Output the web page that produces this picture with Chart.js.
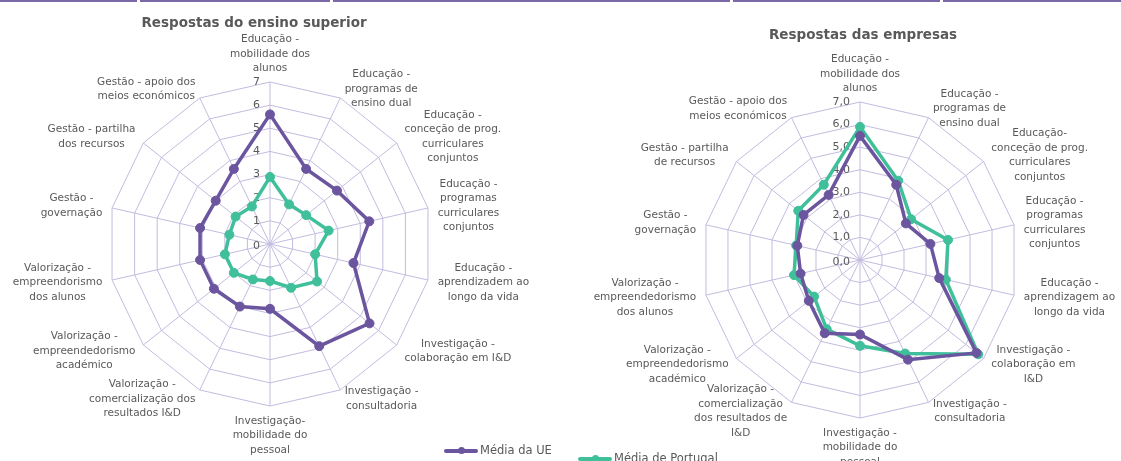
<!DOCTYPE html>
<html>
<head>
<meta charset="utf-8">
<script src="https://cdn.jsdelivr.net/npm/chart.js@4.4.0/dist/chart.umd.min.js"></script>
<style>
  body { margin: 0; width: 1121px; height: 461px; overflow: hidden; background: #fff; position: relative; font-family: "DejaVu Sans", sans-serif; }
  canvas { position: absolute; top: 0; }
  .bar { position: absolute; top: 0; height: 2px; background: #7b68a8; }
  .title { position: absolute; width: 400px; text-align: center; font-size: 13.5px; font-weight: bold; color: #595959; line-height: 16px; }
  .leg { position: absolute; font-size: 11.5px; color: #595959; white-space: nowrap; line-height: 14px; }
  .leg i { display: inline-block; position: relative; width: 34px; height: 4px; border-radius: 2px; vertical-align: middle; margin-right: 2px; }
  .leg i b { position: absolute; left: 14px; top: -2px; width: 7px; height: 7px; border-radius: 50%; background: inherit; }
</style>
</head>
<body>
<div class="bar" style="left:0;width:137px"></div>
<div class="bar" style="left:140px;width:190px"></div>
<div class="bar" style="left:333px;width:397px"></div>
<div class="bar" style="left:733px;width:207px"></div>
<div class="bar" style="left:943px;width:178px"></div>

<canvas id="left" width="560" height="461" style="left:0"></canvas>
<canvas id="right" width="561" height="461" style="left:560px"></canvas>

<div class="title" style="left:54px;top:14px">Respostas do ensino superior</div>
<div class="title" style="left:663px;top:26px">Respostas das empresas</div>

<div class="leg" style="left:444px;top:443px"><i style="background:#6b559f"><b></b></i>Média da UE</div>
<div class="leg" style="left:578px;top:451px"><i style="background:#3fbf9a"><b></b></i>Média de Portugal</div>

<script>
// categories (multi-line labels)
var labelsEnsino = [
  ['Educação -', 'mobilidade dos', 'alunos'],
  ['Educação -', 'programas de', 'ensino dual'],
  ['Educação -', 'conceção de prog.', 'curriculares', 'conjuntos'],
  ['Educação -', 'programas', 'curriculares', 'conjuntos'],
  ['Educação -', 'aprendizadem ao', 'longo da vida'],
  ['Investigação -', 'colaboração em I&D'],
  ['Investigação -', 'consultadoria'],
  ['Investigação-', 'mobilidade do', 'pessoal'],
  ['Valorização -', 'comercialização dos', 'resultados I&D'],
  ['Valorização -', 'empreendedorismo', 'académico'],
  ['Valorização -', 'empreendorismo', 'dos alunos'],
  ['Gestão -', 'governação'],
  ['Gestão - partilha', 'dos recursos'],
  ['Gestão - apoio dos', 'meios económicos']
];
var labelsEmpresas = [
  ['Educação -', 'mobilidade dos', 'alunos'],
  ['Educação -', 'programas de', 'ensino dual'],
  ['Educação-', 'conceção de prog.', 'curriculares', 'conjuntos'],
  ['Educação -', 'programas', 'curriculares', 'conjuntos'],
  ['Educação -', 'aprendizagem ao', 'longo da vida'],
  ['Investigação -', 'colaboração em', 'I&D'],
  ['Investigação -', 'consultadoria'],
  ['Investigação -', 'mobilidade do', 'pessoal'],
  ['Valorização -', 'comercialização', 'dos resultados de', 'I&D'],
  ['Valorização -', 'empreendedorismo', 'académico'],
  ['Valorização -', 'empreendedorismo', 'dos alunos'],
  ['Gestão -', 'governação'],
  ['Gestão - partilha', 'de recursos'],
  ['Gestão - apoio dos', 'meios económicos']
];

// series values
var ensinoUE = [5.6, 3.6, 3.7, 4.4, 3.7, 5.5, 4.9, 2.8, 3.0, 3.1, 3.1, 3.1, 3.0, 3.6];
var ensinoPT = [2.9, 1.9, 2.0, 2.6, 2.0, 2.6, 2.1, 1.6, 1.7, 2.0, 2.0, 1.8, 1.9, 1.8];
var empresasUE = [5.5, 3.7, 2.6, 3.2, 3.6, 6.6, 4.9, 3.3, 3.6, 2.9, 2.7, 2.85, 3.2, 3.2];
var empresasPT = [5.9, 3.9, 2.9, 4.0, 3.9, 6.7, 4.6, 3.8, 3.4, 2.6, 3.0, 2.9, 3.5, 3.7];

var purple = '#6b559f';
var teal = '#3fbf9a';
var gridColor = '#c3bbdf';
var textColor = '#595959';
var fontFamily = '"DejaVu Sans", Verdana, sans-serif';

// tick labels: right aligned just left of the vertical axis, incl. the 0
var tickText = {
  id: 'tickText',
  beforeDatasetsDraw: function(chart, args, opts) {
    var s = chart.scales.r;
    var ctx = chart.ctx;
    ctx.save();
    ctx.font = '11px ' + fontFamily;
    ctx.fillStyle = textColor;
    ctx.textAlign = 'right';
    ctx.textBaseline = 'middle';
    s.ticks.forEach(function(t) {
      var d = s.getDistanceFromCenterForValue(t.value);
      ctx.fillText(opts.fmt(t.value), s.xCenter - 10, s.yCenter - d + (t.value === 0 ? 2 : 0));
    });
    ctx.restore();
  }
};

// point labels: lines centred in a block placed outside each vertex
var pointText = {
  id: 'pointText',
  beforeDatasetsDraw: function(chart) {
    var s = chart.scales.r;
    var ctx = chart.ctx;
    var labels = chart.data.labels;
    var lh = 14.5;
    ctx.save();
    ctx.font = '10.5px ' + fontFamily;
    ctx.fillStyle = textColor;
    ctx.textAlign = 'center';
    ctx.textBaseline = 'middle';
    labels.forEach(function(lines, i) {
      var angle = i * 360 / labels.length;
      var h = lines.length * lh;
      var w = Math.max.apply(null, lines.map(function(l) { return ctx.measureText(l).width; }));
      var cx, top, p;
      if (angle === 0) {
        p = s.getPointPosition(i, s.drawingArea + 6);
        cx = p.x; top = p.y - h;
      } else if (angle === 180) {
        p = s.getPointPosition(i, s.drawingArea + 8);
        cx = p.x; top = p.y;
      } else {
        p = s.getPointPosition(i, s.drawingArea + 10);
        cx = angle < 180 ? p.x + w / 2 : p.x - w / 2;
        top = p.y - h / 2;
      }
      lines.forEach(function(l, k) { ctx.fillText(l, cx, top + lh * (k + 0.5)); });
    });
    ctx.restore();
  }
};

function makeRadar(id, labels, ue, pt, tickFmt, pad) {
  return new Chart(document.getElementById(id), {
    type: 'radar',
    data: {
      labels: labels,
      datasets: [
        { label: 'Média da UE', data: ue, borderColor: purple, backgroundColor: purple,
          pointBackgroundColor: purple, pointBorderColor: purple },
        { label: 'Média de Portugal', data: pt, borderColor: teal, backgroundColor: teal,
          pointBackgroundColor: teal, pointBorderColor: teal }
      ]
    },
    plugins: [tickText, pointText],
    options: {
      responsive: false,
      animation: false,
      devicePixelRatio: 1,
      layout: { padding: pad },
      elements: {
        line: { borderWidth: 3.5, tension: 0, fill: false },
        point: { radius: 4.5, borderWidth: 1 }
      },
      plugins: {
        legend: { display: false },
        tooltip: { enabled: false },
        tickText: { fmt: tickFmt }
      },
      scales: {
        r: {
          min: 0,
          max: 7,
          ticks: { stepSize: 1, display: false },
          grid: { color: gridColor, circular: false, lineWidth: 1 },
          angleLines: { color: gridColor, lineWidth: 1 },
          pointLabels: { display: false }
        }
      }
    }
  });
}

makeRadar('left', labelsEnsino, ensinoUE, ensinoPT,
  function(v) { return String(v); },
  { left: 108, right: 128, top: 82, bottom: 55 });

makeRadar('right', labelsEmpresas, empresasUE, empresasPT,
  function(v) { return v.toFixed(1).replace('.', ','); },
  { left: 142, right: 103, top: 102, bottom: 43 });
</script>
</body>
</html>
